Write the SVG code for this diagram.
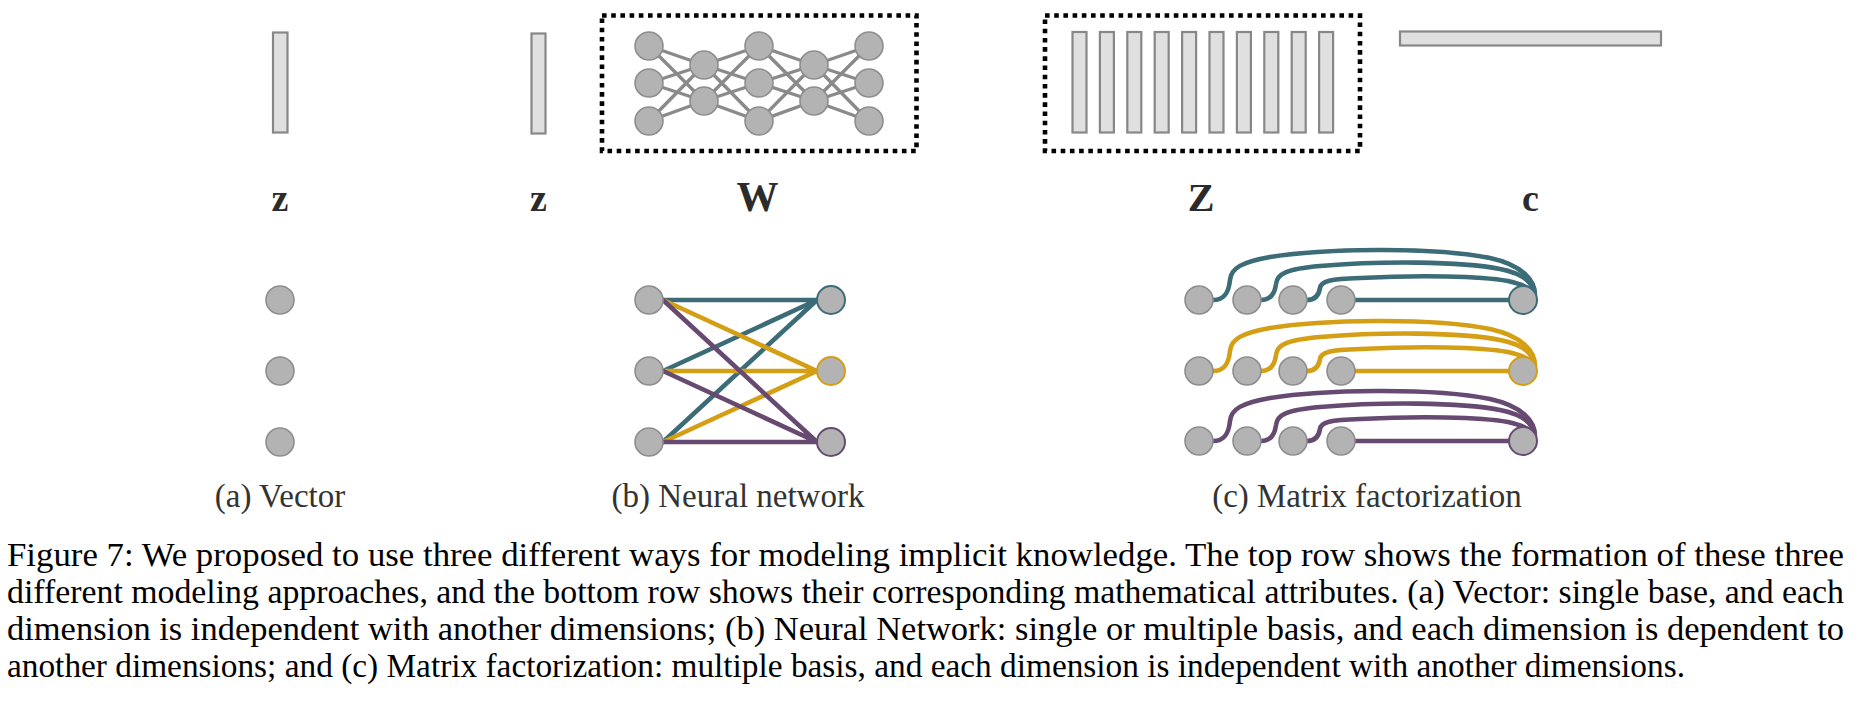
<svg xmlns="http://www.w3.org/2000/svg" width="1862" height="705" viewBox="0 0 1862 705">
<style>
.bar{fill:#e0e0e0;stroke:#878787;stroke-width:2.2}
.dot{fill:none;stroke:#000;stroke-width:4.6;stroke-dasharray:4.6 4.6}
.node{fill:#b3b3b3;stroke:#8e8e8e;stroke-width:1.6}
.nn{stroke:#8a8a8a;stroke-width:3.4;fill:none}
.teal{stroke:#3c6c77}
.gold{stroke:#d49e15}
.purp{stroke:#674a71}
.conn{fill:none;stroke-width:4.6;stroke-linecap:round}
.sym{font-family:"Liberation Serif",serif;font-weight:bold;fill:#2b2b2b;text-anchor:middle}
.sub{font-family:"Liberation Serif",serif;font-size:33px;fill:#333;text-anchor:middle}
.cap{font-family:"Liberation Serif",serif;font-size:34px;fill:#000}
</style>

<g id="vector-top">
<rect class="bar" x="273" y="32.5" width="14.5" height="100"/>
<text class="sym" x="280" y="211" font-size="38">z</text>
</g>

<g id="nn-top">
<rect class="bar" x="531.5" y="33.5" width="14" height="100"/>
<text class="sym" x="538.5" y="211" font-size="38">z</text>
<rect class="dot" x="602" y="15.5" width="314.5" height="135.5"/>
<g class="nn">
<path d="M649 46L704 65M649 46L704 101M649 83L704 65M649 83L704 101M649 121L704 65M649 121L704 101"/>
<path d="M704 65L759 46M704 65L759 83M704 65L759 121M704 101L759 46M704 101L759 83M704 101L759 121"/>
<path d="M759 46L814 65M759 46L814 101M759 83L814 65M759 83L814 101M759 121L814 65M759 121L814 101"/>
<path d="M814 65L869 46M814 65L869 83M814 65L869 121M814 101L869 46M814 101L869 83M814 101L869 121"/>
</g>
<circle class="node" cx="649" cy="46" r="14"/>
<circle class="node" cx="649" cy="83" r="14"/>
<circle class="node" cx="649" cy="121" r="14"/>
<circle class="node" cx="704" cy="65" r="14"/>
<circle class="node" cx="704" cy="101" r="14"/>
<circle class="node" cx="759" cy="46" r="14"/>
<circle class="node" cx="759" cy="83" r="14"/>
<circle class="node" cx="759" cy="121" r="14"/>
<circle class="node" cx="814" cy="65" r="14"/>
<circle class="node" cx="814" cy="101" r="14"/>
<circle class="node" cx="869" cy="46" r="14"/>
<circle class="node" cx="869" cy="83" r="14"/>
<circle class="node" cx="869" cy="121" r="14"/>
<text class="sym" x="757.5" y="211" font-size="42">W</text>
</g>

<g id="mf-top">
<rect class="dot" x="1045" y="15.5" width="315" height="135.5"/>
<rect class="bar" x="1072.5" y="32" width="14" height="100.5"/>
<rect class="bar" x="1099.9" y="32" width="14" height="100.5"/>
<rect class="bar" x="1127.3" y="32" width="14" height="100.5"/>
<rect class="bar" x="1154.7" y="32" width="14" height="100.5"/>
<rect class="bar" x="1182.1" y="32" width="14" height="100.5"/>
<rect class="bar" x="1209.5" y="32" width="14" height="100.5"/>
<rect class="bar" x="1236.9" y="32" width="14" height="100.5"/>
<rect class="bar" x="1264.3" y="32" width="14" height="100.5"/>
<rect class="bar" x="1291.7" y="32" width="14" height="100.5"/>
<rect class="bar" x="1319.1" y="32" width="14" height="100.5"/>
<text class="sym" x="1201" y="211" font-size="40">Z</text>
<rect class="bar" x="1400" y="31.5" width="261" height="14"/>
<text class="sym" x="1530.5" y="211" font-size="38">c</text>
</g>

<g id="connectors">
<g id="nn-bottom-edges" class="conn">
<path class="teal" d="M663 300L817 300M663 371L817 300M663 442L817 300"/>
<path class="gold" d="M663 300L817 371M663 371L817 371M663 442L817 371"/>
<path class="purp" d="M663 300L817 442M663 371L817 442M663 442L817 442"/>
</g>
<g id="mf-row1-edges" class="conn teal" transform="translate(0,300)">
<path d="M1213 0C1226 0 1229 -10 1230 -20C1231 -32 1242 -38 1270 -43C1320 -51 1430 -54 1490 -42C1522 -35 1535 -20 1535 -5"/>
<path d="M1261 0C1272 0 1275 -8 1276 -16C1277 -26 1286 -31 1320 -34C1380 -39 1460 -39 1500 -31C1525 -26 1534 -16 1534 -5"/>
<path d="M1307 0C1316 0 1319 -6 1320 -12C1321 -19 1330 -21 1360 -22C1420 -25 1480 -24 1508 -19C1526 -15 1533 -10 1533 -5"/>
<path d="M1341 0L1523 0"/>
</g>
<g id="mf-row2-edges" class="conn gold" transform="translate(0,371)">
<path d="M1213 0C1226 0 1229 -10 1230 -20C1231 -32 1242 -38 1270 -43C1320 -51 1430 -54 1490 -42C1522 -35 1535 -20 1535 -5"/>
<path d="M1261 0C1272 0 1275 -8 1276 -16C1277 -26 1286 -31 1320 -34C1380 -39 1460 -39 1500 -31C1525 -26 1534 -16 1534 -5"/>
<path d="M1307 0C1316 0 1319 -6 1320 -12C1321 -19 1330 -21 1360 -22C1420 -25 1480 -24 1508 -19C1526 -15 1533 -10 1533 -5"/>
<path d="M1341 0L1523 0"/>
</g>
<g id="mf-row3-edges" class="conn purp" transform="translate(0,441)">
<path d="M1213 0C1226 0 1229 -10 1230 -20C1231 -32 1242 -38 1270 -43C1320 -51 1430 -54 1490 -42C1522 -35 1535 -20 1535 -5"/>
<path d="M1261 0C1272 0 1275 -8 1276 -16C1277 -26 1286 -31 1320 -34C1380 -39 1460 -39 1500 -31C1525 -26 1534 -16 1534 -5"/>
<path d="M1307 0C1316 0 1319 -6 1320 -12C1321 -19 1330 -21 1360 -22C1420 -25 1480 -24 1508 -19C1526 -15 1533 -10 1533 -5"/>
<path d="M1341 0L1523 0"/>
</g>
</g>

<g id="vector-bottom">
<circle class="node" cx="280" cy="300" r="14"/>
<circle class="node" cx="280" cy="371" r="14"/>
<circle class="node" cx="280" cy="442" r="14"/>
<text class="sub" x="280" y="507">(a) Vector</text>
</g>

<g id="nn-bottom">
<circle class="node" cx="649" cy="300" r="14"/>
<circle class="node" cx="649" cy="371" r="14"/>
<circle class="node" cx="649" cy="442" r="14"/>
<circle class="node teal" cx="831" cy="300" r="14" style="stroke-width:2"/>
<circle class="node gold" cx="831" cy="371" r="14" style="stroke-width:2"/>
<circle class="node purp" cx="831" cy="442" r="14" style="stroke-width:2"/>
<text class="sub" x="738" y="507">(b) Neural network</text>
</g>

<g id="mf-bottom">
<circle class="node" cx="1199" cy="300" r="14"/>
<circle class="node" cx="1247" cy="300" r="14"/>
<circle class="node" cx="1293" cy="300" r="14"/>
<circle class="node" cx="1341" cy="300" r="14"/>
<circle class="node teal" cx="1523" cy="300" r="14" style="stroke-width:2"/>
<circle class="node" cx="1199" cy="371" r="14"/>
<circle class="node" cx="1247" cy="371" r="14"/>
<circle class="node" cx="1293" cy="371" r="14"/>
<circle class="node" cx="1341" cy="371" r="14"/>
<circle class="node gold" cx="1523" cy="371" r="14" style="stroke-width:2"/>
<circle class="node" cx="1199" cy="441" r="14"/>
<circle class="node" cx="1247" cy="441" r="14"/>
<circle class="node" cx="1293" cy="441" r="14"/>
<circle class="node" cx="1341" cy="441" r="14"/>
<circle class="node purp" cx="1523" cy="441" r="14" style="stroke-width:2"/>
<text class="sub" x="1367" y="507">(c) Matrix factorization</text>
</g>

<g id="caption">
<text class="cap" x="7" y="566" textLength="1837" lengthAdjust="spacingAndGlyphs">Figure 7: We proposed to use three different ways for modeling implicit knowledge.  The top row shows the formation of these three</text>
<text class="cap" x="7" y="603" textLength="1837" lengthAdjust="spacingAndGlyphs">different modeling approaches, and the bottom row shows their corresponding mathematical attributes. (a) Vector: single base, and each</text>
<text class="cap" x="7" y="640" textLength="1837" lengthAdjust="spacingAndGlyphs">dimension is independent with another dimensions; (b) Neural Network:  single or multiple basis, and each dimension is dependent to</text>
<text class="cap" x="7" y="677" textLength="1678" lengthAdjust="spacingAndGlyphs">another dimensions; and (c) Matrix factorization: multiple basis, and each dimension is independent with another dimensions.</text>
</g>
</svg>
